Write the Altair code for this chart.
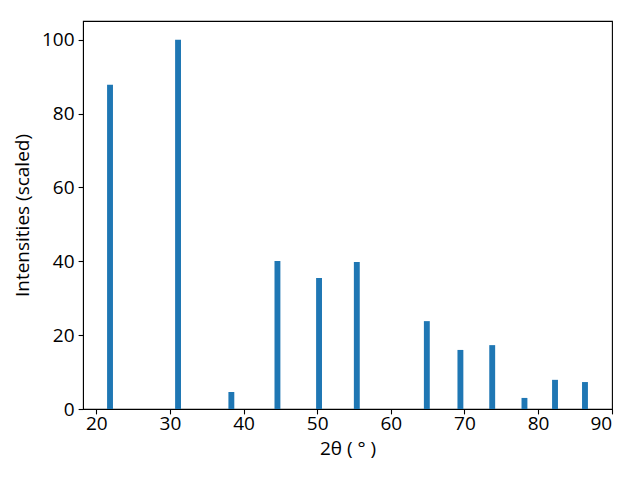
import altair as alt
import pandas as pd

two_theta = [21.86, 31.10, 38.34, 44.60, 50.25, 55.38, 64.89, 69.45, 73.77, 78.15, 82.30, 86.37]
intensity = [87.8, 100.0, 4.6, 40.1, 35.5, 39.8, 23.8, 16.0, 17.3, 3.0, 7.9, 7.3]
x_ticks = [20, 30, 40, 50, 60, 70, 80, 90]
y_ticks = [0, 20, 40, 60, 80, 100]

df = pd.DataFrame({"x": two_theta, "y": intensity})

font = "Open Sans"
fs = 19

chart = alt.Chart(df).transform_calculate(
    x0="datum.x - 0.4", x1="datum.x + 0.4"
).mark_rect(color="#1f77b4").encode(
    x=alt.X("x0:Q", scale=alt.Scale(domain=[18.19, 90.04], nice=False, zero=False),
            axis=alt.Axis(values=x_ticks, title="2θ ( ° )", grid=False, labelFont=font,
                          titleFont=font, labelFontSize=fs, titleFontSize=fs,
                          titleFontWeight="normal", labelColor="black", titleColor="black",
                          domainColor="black", tickColor="black", tickSize=4.9, tickWidth=1.1,
                          labelPadding=1, titlePadding=6)),
    x2="x1:Q",
    y=alt.Y("y:Q", scale=alt.Scale(domain=[0, 105.1], nice=False),
            axis=alt.Axis(values=y_ticks, title="Intensities (scaled)", grid=False, labelFont=font,
                          titleFont=font, labelFontSize=fs, titleFontSize=fs,
                          titleFontWeight="normal", labelColor="black", titleColor="black",
                          domainColor="black", tickColor="black", tickSize=4.9, tickWidth=1.1,
                          labelPadding=4, titlePadding=9)),
    y2=alt.datum(0),
).properties(
    width=529, height=388,
    autosize=alt.AutoSizeParams(type="none"),
    padding={"left": 75, "top": 13, "right": 20, "bottom": 60},
).configure_view(
    stroke="black", strokeWidth=1.1
)

chart.save("out.html", embed_options={"renderer": "svg", "actions": False})
